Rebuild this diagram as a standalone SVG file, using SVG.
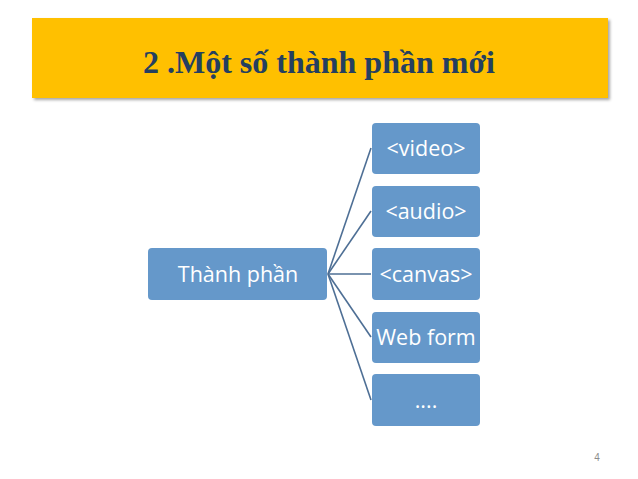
<svg xmlns="http://www.w3.org/2000/svg" width="638" height="479" viewBox="0 0 638 479">
  <defs>
    <filter id="shadow" x="-5%" y="-20%" width="110%" height="150%">
      <feGaussianBlur in="SourceAlpha" stdDeviation="1.5"/>
      <feOffset dx="2" dy="2" result="b"/>
      <feFlood flood-color="#000" flood-opacity="0.35"/>
      <feComposite in2="b" operator="in"/>
      <feMerge><feMergeNode/><feMergeNode in="SourceGraphic"/></feMerge>
    </filter>
  </defs>
  <style>
    .box { fill: #6598CA; }
    .lbl { font-family: "Open Sans", "Noto Sans", sans-serif; font-size: 21.5px; fill: #ffffff; text-anchor: middle; }
    .link { stroke: #4E6F95; stroke-width: 1.6; fill: none; }
  </style>
  <rect width="638" height="479" fill="#ffffff"/>

  <!-- title banner -->
  <g id="title">
    <rect x="32" y="18" width="576" height="80" fill="#FFC000" filter="url(#shadow)"/>
    <text x="319" y="73" font-family="'Liberation Serif', serif" font-weight="bold" font-size="32" fill="#243F60" text-anchor="middle">2 .Một số thành phần mới</text>
  </g>

  <!-- connectors -->
  <g id="connectors">
    <line class="link" x1="328" y1="274" x2="371" y2="148"/>
    <line class="link" x1="328" y1="274" x2="371" y2="211"/>
    <line class="link" x1="328" y1="274" x2="371" y2="274"/>
    <line class="link" x1="328" y1="274" x2="371" y2="337"/>
    <line class="link" x1="328" y1="274" x2="371" y2="400"/>
  </g>

  <g id="root">
    <rect class="box" x="148" y="248" width="179" height="52" rx="4"/>
    <text class="lbl" x="238" y="282">Thành phần</text>
  </g>
  <g id="video">
    <rect class="box" x="372" y="123" width="108" height="51" rx="4"/>
    <text class="lbl" x="426" y="156">&lt;video&gt;</text>
  </g>
  <g id="audio">
    <rect class="box" x="372" y="186" width="108" height="51" rx="4"/>
    <text class="lbl" x="426" y="219">&lt;audio&gt;</text>
  </g>
  <g id="canvas">
    <rect class="box" x="372" y="248" width="108" height="52" rx="4"/>
    <text class="lbl" x="426" y="282">&lt;canvas&gt;</text>
  </g>
  <g id="webform">
    <rect class="box" x="372" y="312" width="108" height="51" rx="4"/>
    <text class="lbl" x="426" y="345">Web form</text>
  </g>
  <g id="more">
    <rect class="box" x="372" y="374" width="108" height="52" rx="4"/>
    <text class="lbl" x="426" y="408">....</text>
  </g>

  <text x="597" y="461" font-family="'Liberation Sans', sans-serif" font-size="10" fill="#8C8C8C" text-anchor="middle">4</text>
</svg>
